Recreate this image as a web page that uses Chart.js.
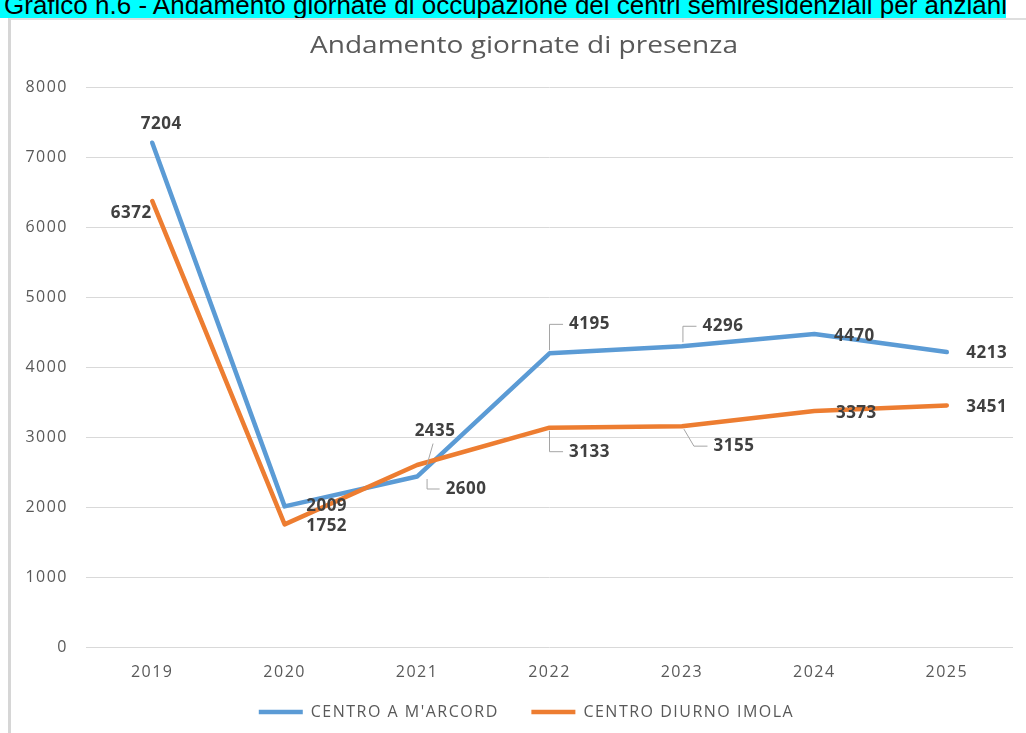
<!DOCTYPE html>
<html><head><meta charset="utf-8">
<script src="https://cdn.jsdelivr.net/npm/chart.js@4.4.1/dist/chart.umd.min.js"></script>
<style>
html,body{margin:0;padding:0;background:#fff;width:1026px;height:733px;overflow:hidden;}
#frame{position:absolute;left:8px;top:18px;right:0;bottom:0;border-left:3px solid #d6d6d6;border-top:2px solid #dedede;background:#fff;}
#banner{position:absolute;left:0;top:0;width:1006px;height:18px;background:#00FFFF;overflow:hidden;}
#banner span{position:absolute;left:4px;top:-8px;font:26px/26px "Liberation Sans",Arial,sans-serif;color:#000;white-space:nowrap;}
canvas{position:absolute;left:0;top:0;}
</style></head><body>
<div id="frame"></div>
<div id="banner"><span>Grafico n.6 - Andamento giornate di occupazione dei centri semiresidenziali per anziani</span></div>
<canvas id="c" width="1026" height="733"></canvas>
<script>
const chartTitle = 'Andamento giornate di presenza';
const years = ['2019', '2020', '2021', '2022', '2023', '2024', '2025'];
const centroAMarcord = [7204, 2009, 2435, 4195, 4296, 4470, 4213];
const centroDiurnoImola = [6372, 1752, 2600, 3133, 3155, 3373, 3451];
const seriesNames = ["CENTRO A M'ARCORD", "CENTRO DIURNO IMOLA"];
const yTickValues = [0, 1000, 2000, 3000, 4000, 5000, 6000, 7000, 8000];

// presentation only: where each value label sits relative to its point
const labelOffsets = [
  [[9,-19],[42,0],[18,-45],[40,-29],[41,-20],[40,2],[40,1]],
  [[-21,12],[42,2],[49,24],[40,24],[52,20],[42,2],[40,2]]
];
const leaderKinds = [
  [null,null,{k:'line',e:[10,-12]},{k:'elbow',s:[0,-3]},{k:'elbow',s:[1,-4]},null,null],
  [null,null,{k:'elbow',s:[10,14]},{k:'elbow',s:[0,3]},{k:'slant',s:[2,3],b:10},null,null]
];

const FONT = '"Open Sans", "DejaVu Sans", sans-serif';
const LS = '1.5px';

const spacingPlugin = {
  id: 'spacing',
  beforeLayout(chart){ chart.ctx.letterSpacing = LS; },
  afterLayout(chart){
    const l = chart.legend;
    if (l) { l.left += 20; l.right += 20; }
  },
  beforeDraw(chart){ chart.ctx.letterSpacing = LS; }
};

const titlePlugin = {
  id: 'customTitle',
  afterDraw(chart){
    const c = chart.ctx;
    c.save();
    c.letterSpacing = '0px';
    c.font = '24px ' + FONT;
    c.fillStyle = '#595959';
    c.textAlign = 'center';
    c.textBaseline = 'middle';
    const w = c.measureText(chartTitle).width;
    c.translate(524, 46);
    c.scale(428 / w, 1);
    c.fillText(chartTitle, 0, 0);
    c.restore();
  }
};

const labelPlugin = {
  id: 'valueLabels',
  afterDatasetsDraw(chart){
    const c = chart.ctx;
    c.save();
    c.letterSpacing = '0.5px';
    c.font = 'bold 17px ' + FONT;
    c.textAlign = 'center';
    c.textBaseline = 'middle';
    chart.data.datasets.forEach((ds, di) => {
      const sIdx = ds.seriesIndex;
      const meta = chart.getDatasetMeta(di);
      meta.data.forEach((pt, i) => {
        const txt = String(ds.data[i]);
        const [dx, dy] = labelOffsets[sIdx][i];
        const lx = pt.x + dx, ly = pt.y + dy;
        const hw = c.measureText(txt).width / 2;
        const ld = leaderKinds[sIdx][i];
        if (ld) {
          c.beginPath();
          c.strokeStyle = '#A5A5A5';
          c.lineWidth = 1;
          if (ld.k === 'line') {
            c.moveTo(lx - 2, ly + 12);
            c.lineTo(pt.x + ld.e[0], pt.y + ld.e[1]);
          } else {
            const sx = pt.x + ld.s[0], sy = pt.y + ld.s[1];
            c.moveTo(sx, sy);
            c.lineTo(sx + (ld.k === 'slant' ? ld.b : 0), ly);
            c.lineTo(lx - hw - 6, ly);
          }
          c.stroke();
        }
        c.fillStyle = '#404040';
        c.fillText(txt, lx, ly);
      });
    });
    c.restore();
  }
};

new Chart(document.getElementById('c'), {
  type: 'line',
  data: {
    labels: years,
    datasets: [
      { label: seriesNames[0], data: centroAMarcord, seriesIndex: 0, order: 1,
        borderColor: '#5B9BD5', backgroundColor: '#5B9BD5', borderWidth: 4.5,
        pointRadius: 0, pointHoverRadius: 0, pointBorderWidth: 4.5, pointBorderColor: '#5B9BD5',
        tension: 0, borderCapStyle: 'round', borderJoinStyle: 'round', fill: false },
      { label: seriesNames[1], data: centroDiurnoImola, seriesIndex: 1, order: 0,
        borderColor: '#ED7D31', backgroundColor: '#ED7D31', borderWidth: 4.5,
        pointRadius: 0, pointHoverRadius: 0, pointBorderWidth: 4.5, pointBorderColor: '#ED7D31',
        tension: 0, borderCapStyle: 'round', borderJoinStyle: 'round', fill: false }
    ]
  },
  options: {
    responsive: false,
    animation: false,
    devicePixelRatio: 1,
    events: [],
    layout: { padding: { left: 0, right: 13, top: 87, bottom: 3 } },
    scales: {
      x: {
        type: 'category', offset: true,
        grid: { display: false, drawTicks: false },
        border: { display: false },
        ticks: { color: '#595959', font: { family: FONT, size: 16 }, padding: 16, maxRotation: 0 },
        afterFit(s){ s.height = 47; }
      },
      y: {
        min: 0, max: 8000,
        afterBuildTicks(s){ s.ticks = yTickValues.map(v => ({ value: v })); },
        grid: { color: '#D9D9D9', lineWidth: 1, drawTicks: false },
        border: { display: false },
        ticks: { color: '#595959', font: { family: FONT, size: 16 }, padding: 18,
                 callback: v => String(v) },
        afterFit(s){ s.width = 86; }
      }
    },
    plugins: {
      title: { display: false },
      tooltip: { enabled: false },
      legend: {
        position: 'bottom', align: 'center', reverse: true,
        labels: {
          usePointStyle: true, pointStyle: 'line', pointStyleWidth: 44,
          color: '#595959', font: { family: FONT, size: 16 }, padding: 10,
          generateLabels(chart){
            const items = Chart.defaults.plugins.legend.labels.generateLabels(chart);
            return items.map(it => it.datasetIndex === 0 ? Object.assign(it, { text: it.text + '    ' }) : it);
          }
        }
      }
    }
  },
  plugins: [spacingPlugin, titlePlugin, labelPlugin]
});
</script>
</body></html>
